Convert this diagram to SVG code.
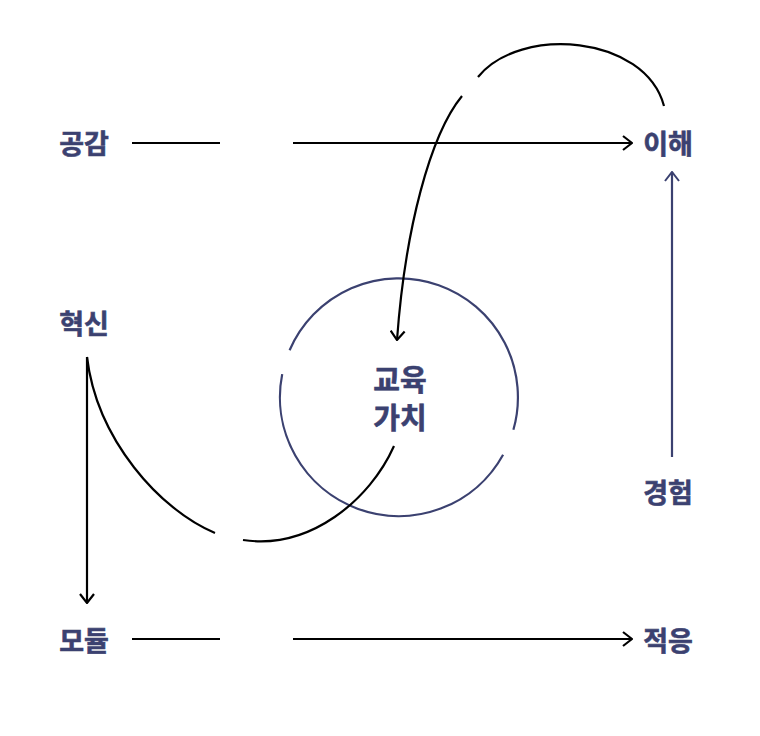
<svg xmlns="http://www.w3.org/2000/svg" width="760" height="736" viewBox="0 0 760 736">
<defs>
<style>
.lbl{font-family:"Noto Sans CJK KR","Noto Sans",sans-serif;font-weight:700;font-size:27px;fill:#3b4170;stroke:#3b4170;stroke-width:0.6;text-anchor:middle;dominant-baseline:central}
.ctr{font-size:29px}
.k{fill:none;stroke:#000;stroke-width:2.2}
.n{fill:none;stroke:#3b4170;stroke-width:2.2}
</style>
<marker id="ak" viewBox="0 0 12 16" refX="11" refY="8" markerWidth="12" markerHeight="16" markerUnits="userSpaceOnUse" orient="auto">
<path d="M2,1 L11,8 L2,15" fill="none" stroke="#000" stroke-width="2.2"/>
</marker>
<marker id="an" viewBox="0 0 12 16" refX="11" refY="8" markerWidth="12" markerHeight="16" markerUnits="userSpaceOnUse" orient="auto">
<path d="M2,1 L11,8 L2,15" fill="none" stroke="#3b4170" stroke-width="2"/>
</marker>
</defs>
<rect width="760" height="736" fill="#fff"/>
<g id="center">
<path class="n" d="M289.6,350.3 A119,119 0 0 1 513.4,429.8"/>
<path class="n" d="M503.1,454.7 A119,119 0 0 1 282.2,374.1"/>
<text class="lbl ctr" x="400" y="378">교육</text>
<text class="lbl ctr" x="400" y="416">가치</text>
</g>
<g id="connectors">
<line class="k" x1="132" y1="143" x2="220" y2="143"/>
<line class="k" x1="293" y1="143" x2="632" y2="143" marker-end="url(#ak)"/>
<line class="k" x1="132" y1="639" x2="220" y2="639"/>
<line class="k" x1="293" y1="639" x2="632" y2="639" marker-end="url(#ak)"/>
<line class="k" x1="87" y1="357" x2="87" y2="603" marker-end="url(#ak)"/>
<line class="n" x1="672" y1="457" x2="672" y2="172" stroke-width="2" marker-end="url(#an)"/>
<path class="k" d="M664,106 C645,35 520,25 478,77"/>
<path class="k" d="M462,96 C430,135 405,230 397,340" marker-end="url(#ak)"/>
<path class="k" d="M87,357 C97,440 160,510 215,533"/>
<path class="k" d="M243,540 C310,550 370,500 394,446"/>
</g>
<g id="n-gonggam"><text class="lbl" x="84" y="142">공감</text></g>
<g id="n-ihae"><text class="lbl" x="668" y="142">이해</text></g>
<g id="n-hyeoksin"><text class="lbl" x="84" y="322">혁신</text></g>
<g id="n-gyeongheom"><text class="lbl" x="668" y="491">경험</text></g>
<g id="n-module"><text class="lbl" x="84" y="639">모듈</text></g>
<g id="n-jeogeung"><text class="lbl" x="668" y="639">적응</text></g>
</svg>
